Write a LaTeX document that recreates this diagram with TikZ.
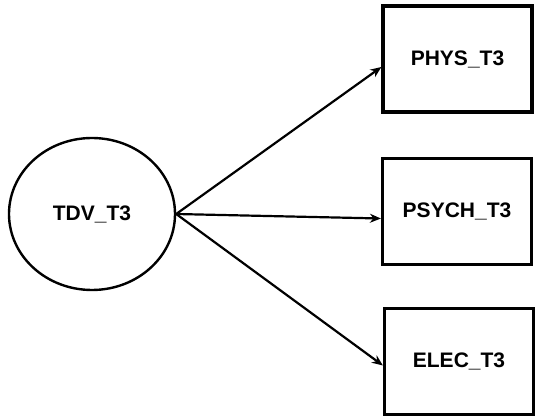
\documentclass[tikz,border=0pt]{standalone}
\usepackage{fontspec}
\setmainfont{Liberation Sans}
\usepackage{tikz}
\usetikzlibrary{arrows.meta,shapes.geometric}
\definecolor{cink}{HTML}{000000}
\tikzset{
  >={Stealth[length=11pt,width=9pt]},
  latent/.style={ellipse,draw=cink,line width=2.4pt,minimum width=166pt,minimum height=152pt,
                 inner sep=0pt,font=\bfseries\fontsize{21}{23}\selectfont},
  indic/.style={rectangle,draw=cink,line width=3.2pt,minimum width=149pt,minimum height=106pt,
                inner sep=0pt,font=\bfseries\fontsize{21}{23}\selectfont},
  flow/.style={->,line width=2.2pt,draw=cink},
}
\begin{document}
\begin{tikzpicture}[x=1pt,y=1pt]
\useasboundingbox (0,0) rectangle (543,417);

% ================= latent factor =================
\node[latent] (tdv) at (92,203) {TDV\_T3};

% ================= indicators =================
\node[indic] (phys)  at (457.5,358)   {PHYS\_T3};
\node[indic] (psych) at (457,205.5)   {PSYCH\_T3};
\node[indic] (elec)  at (459,55.5)    {ELEC\_T3};

% ================= loadings =================
\draw[flow] (tdv.east) -- ([yshift=-8pt]phys.west);
\draw[flow] (tdv.east) -- ([yshift=-7pt]psych.west);
\draw[flow] (tdv.east) -- ([yshift=-4pt]elec.west);

\end{tikzpicture}
\end{document}
